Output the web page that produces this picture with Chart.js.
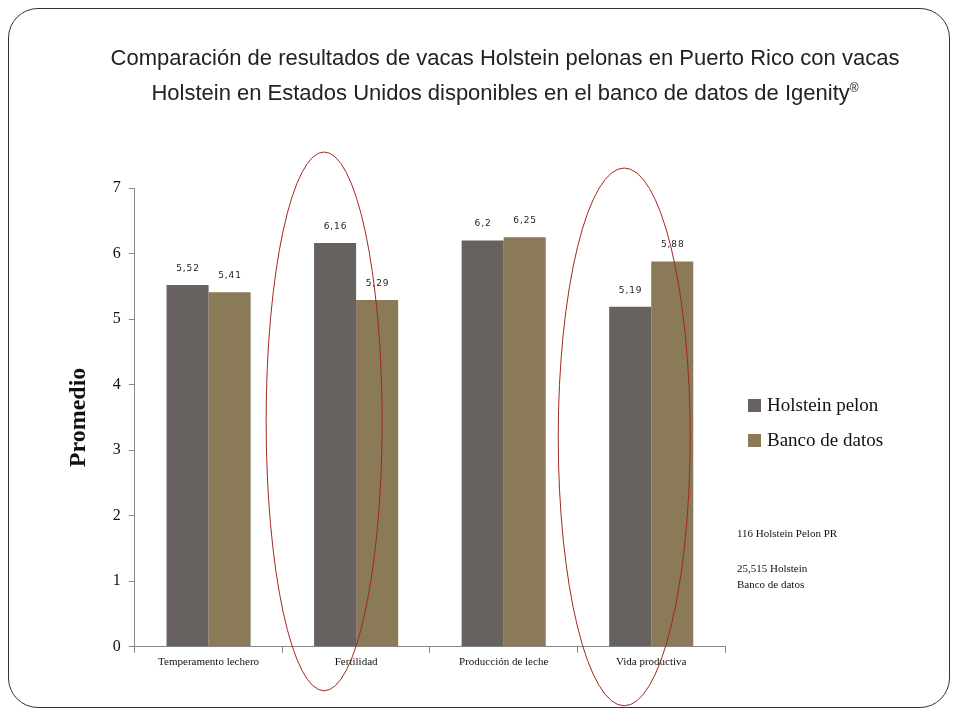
<!DOCTYPE html>
<html><head><meta charset="utf-8">
<script src="https://cdn.jsdelivr.net/npm/chart.js@4/dist/chart.umd.min.js"></script>
<style>
body{margin:0;background:#fff;width:960px;height:720px;position:relative;overflow:hidden}
#frame{position:absolute;left:8px;top:8px;width:942px;height:700px;border:1px solid #333;border-radius:30px;box-sizing:border-box}
#title{position:absolute;left:105px;width:800px;top:42px;text-align:center;font-family:"Liberation Sans",Arial,sans-serif;font-size:22px;line-height:31px;color:#222}
#wrap{position:absolute;left:0;top:0;width:960px;height:720px}
.leg{position:absolute;left:748px;font-family:"Liberation Serif",serif;font-size:19px;color:#111}
.leg span{display:inline-block;width:13px;height:13px;margin-right:6px;vertical-align:-1px}
.note{position:absolute;left:737px;font-family:"Liberation Serif",serif;font-size:11px;color:#111;line-height:16px}
</style></head><body>
<div id="frame"></div>
<div id="wrap"><canvas id="c" width="960" height="720"></canvas></div>
<div id="title">Comparación de resultados de vacas Holstein pelonas en Puerto Rico con vacas Holstein en Estados Unidos disponibles en el banco de datos de Igenity<sup style="font-size:12px">®</sup></div>
<div class="leg" style="top:394px"><span style="background:#67615F"></span>Holstein pelon</div>
<div class="leg" style="top:429px"><span style="background:#8B7A57"></span>Banco de datos</div>
<div class="note" style="top:525px">116 Holstein Pelon PR</div>
<div class="note" style="top:560px">25,515 Holstein<br>Banco de datos</div>
<script>
const categories=["Temperamento lechero","Fertilidad","Producción de leche","Vida productiva"];
const holsteinPelon=[5.52,6.16,6.2,5.19];
const bancoDatos=[5.41,5.29,6.25,5.88];
const seriesNames=["Holstein pelon","Banco de datos"];
const highlighted=[1,3];
const fmt=v=>String(v).replace('.',',');
const labelPlugin={id:'lbl',afterDatasetsDraw(ch){
 const ctx=ch.ctx;ctx.save();ctx.font='9px "DejaVu Sans"';ctx.fillStyle='#222';ctx.textAlign='center';
 ch.data.datasets.forEach((ds,i)=>{ch.getDatasetMeta(i).data.forEach((b,j)=>{
  ctx.fillText(fmt(ds.data[j]).split('').join(String.fromCharCode(8202)),b.x,b.y-14);});});
 const x=ch.scales.x, y=ch.scales.y;
 ctx.strokeStyle='#A0281E';ctx.lineWidth=1;
 const off=[-32,-27], rx=[58,66];
 highlighted.forEach((k,n)=>{
  const cx=x.getPixelForValue(k)+off[n];
  const top=y.getPixelForValue(7)-36+(n*16), bot=y.bottom+44+(n*15);
  ctx.beginPath();ctx.ellipse(cx,(top+bot)/2,rx[n],(bot-top)/2,0,0,Math.PI*2);ctx.stroke();
 });
 ctx.restore();}};
new Chart(document.getElementById('c'),{type:'bar',
 data:{labels:categories,datasets:[
  {label:seriesNames[0],data:holsteinPelon,backgroundColor:'#67615F'},
  {label:seriesNames[1],data:bancoDatos,backgroundColor:'#8B7A57'}]},
 options:{responsive:false,animation:false,
  layout:{padding:{left:60,right:235,top:188,bottom:48}},
  plugins:{legend:{display:false},tooltip:{enabled:false}},
  datasets:{bar:{categoryPercentage:0.57,barPercentage:1}},
  scales:{
   x:{grid:{display:true,drawOnChartArea:false,offset:true,tickLength:6,color:'#888'},border:{color:'#888'},
      ticks:{font:{family:'"Liberation Serif"',size:11},color:'#111',maxRotation:0}},
   y:{min:0,max:7,ticks:{stepSize:1,font:{family:'"Liberation Serif"',size:16},color:'#111',padding:8},
      grid:{display:true,drawOnChartArea:false,tickLength:6,color:'#888'},border:{color:'#888'},
      title:{display:true,text:'Promedio',font:{family:'"Liberation Serif"',size:24,weight:'bold'},color:'#111',padding:{bottom:12}}}}},
 plugins:[labelPlugin]});
</script></body></html>
